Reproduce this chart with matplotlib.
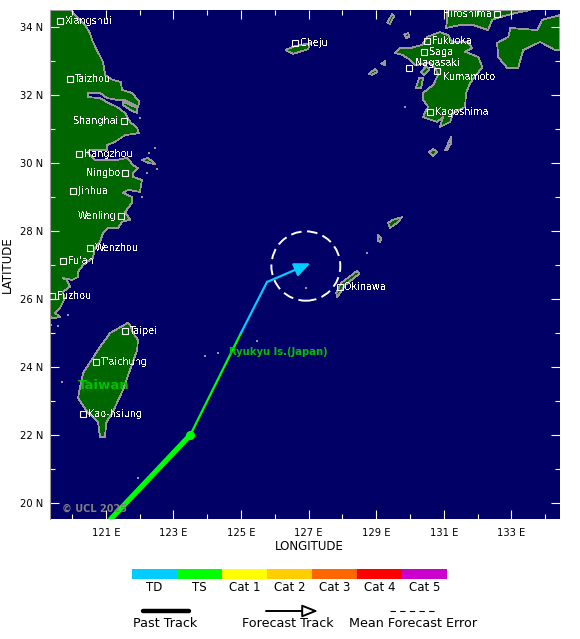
import matplotlib
matplotlib.use('Agg')
import matplotlib.pyplot as plt
from matplotlib.patches import Polygon, Circle

# coast outlines, lon / lat
china_lon = [119.35, 120.00, 120.03, 120.39, 120.53, 120.62, 120.77, 120.92, 120.98, 121.21, 121.45, 121.48, 121.78,
             122.00, 121.95, 121.57, 121.36, 121.04, 120.83, 120.47, 120.47, 120.83, 121.07, 121.33, 121.57, 121.72,
             121.93, 121.98, 121.57, 121.27, 121.04, 121.04, 120.53, 120.47, 120.68, 121.33, 121.63, 121.81, 121.95,
             121.81, 121.81, 122.07, 122.01, 121.66, 121.51, 121.78, 121.78, 121.57, 121.72, 121.48, 121.36, 121.07,
             120.92, 120.83, 120.68, 120.62, 120.33, 120.18, 120.18, 120.00, 119.71, 119.85, 119.94, 119.73, 119.79,
             119.65, 119.50, 119.65, 119.44, 119.35]
china_lat = [34.50, 34.50, 34.41, 34.06, 33.82, 33.56, 33.26, 32.97, 32.59, 32.44, 32.38, 32.15, 32.06,
             31.79, 31.65, 31.85, 31.85, 31.91, 32.06, 32.06, 31.94, 31.91, 31.77, 31.65, 31.47, 31.21,
             31.03, 30.88, 30.82, 30.62, 30.53, 30.38, 30.38, 30.30, 30.09, 30.09, 30.15, 29.94, 29.85,
             29.71, 29.59, 29.50, 29.15, 29.21, 29.12, 29.00, 28.83, 28.56, 28.33, 28.27, 28.09, 28.09,
             27.94, 27.68, 27.50, 27.21, 27.00, 26.80, 26.65, 26.56, 26.62, 26.56, 26.36, 26.21, 26.03,
             25.74, 25.59, 25.47, 25.44, 25.47]

taiwan_lon = [121.66, 121.13, 120.83, 120.62, 120.33, 120.24, 120.18, 120.45, 120.77, 120.83, 120.98, 121.01, 121.21,
              121.51, 121.72, 121.93, 121.95, 121.81, 121.72]
taiwan_lat = [25.30, 25.00, 24.59, 24.27, 23.83, 23.42, 23.09, 22.68, 22.39, 21.95, 21.95, 22.36, 22.68,
              23.33, 23.92, 24.50, 24.80, 25.00, 25.24]

kyushu_lon = [130.89, 131.13, 131.25, 131.72, 131.84, 131.63, 132.02, 132.14, 131.78, 131.66, 131.63, 131.28, 131.19,
              130.89, 130.98, 130.81, 130.39, 130.45, 130.54, 130.39, 130.39, 130.69, 130.83, 130.75, 130.60, 130.15,
              130.01, 129.77, 129.56, 129.71, 130.01, 130.36, 130.51]
kyushu_lat = [33.85, 33.76, 33.56, 33.56, 33.38, 33.27, 33.12, 32.82, 32.35, 32.06, 31.65, 31.47, 31.21,
              31.06, 31.35, 31.21, 31.35, 31.50, 31.65, 31.85, 32.06, 32.30, 32.59, 32.79, 32.94, 32.88,
              33.03, 33.18, 33.24, 33.38, 33.38, 33.47, 33.71]

honshu_lon = [131.10, 131.10, 131.07, 131.49, 131.87, 132.31, 132.43, 132.67, 133.11, 133.56]
honshu_lat = [34.50, 34.21, 33.97, 34.06, 34.06, 33.91, 34.21, 34.29, 34.41, 34.50]

shikoku_lon = [132.58, 132.91, 132.97, 133.77, 133.91, 134.44, 134.44, 134.30, 133.85, 133.35, 133.20, 132.88, 132.61]
shikoku_lat = [33.53, 33.71, 33.97, 33.91, 34.21, 34.35, 33.32, 33.32, 33.56, 33.32, 32.79, 32.79, 33.12]

cheju_lon = [126.31, 126.60, 127.05, 126.99, 126.54]
cheju_lat = [33.32, 33.44, 33.53, 33.35, 33.21]
tsushima_lon = [129.33, 129.47, 129.53, 129.41]
tsushima_lat = [34.12, 34.38, 34.32, 34.09]
iki_lon = [129.83, 129.95, 129.98, 129.89]
iki_lat = [33.79, 33.82, 33.71, 33.68]
goto_lon = [128.79, 128.97, 129.03, 128.88]
goto_lat = [32.62, 32.77, 32.68, 32.59]
hirado_lon = [129.15, 129.27, 129.27]
hirado_lat = [32.91, 33.00, 32.88]
amakusa_lon = [130.18, 130.27, 130.39, 130.33]
amakusa_lat = [32.21, 32.50, 32.50, 32.21]
unzen_lon = [130.33, 130.48, 130.57, 130.42]
unzen_lat = [32.68, 32.85, 32.74, 32.59]
tanega_lon = [131.04, 131.22, 131.22, 131.10]
tanega_lat = [30.38, 30.77, 30.59, 30.38]
yaku_lon = [130.57, 130.69, 130.81, 130.69]
yaku_lat = [30.33, 30.41, 30.33, 30.21]
okinawa_lon = [128.44, 128.50, 128.08, 127.93, 127.85, 127.82, 127.96]
okinawa_lat = [26.83, 26.74, 26.41, 26.18, 26.06, 26.18, 26.47]
amami_lon = [129.35, 129.50, 129.77, 129.62, 129.41]
amami_lat = [28.24, 28.33, 28.41, 28.24, 28.09]
toku_lon = [129.06, 129.15, 129.12, 129.06]
toku_lat = [27.88, 27.80, 27.68, 27.71]
zhoushan_lon = [122.07, 122.25, 122.46, 122.25]
zhoushan_lat = [30.09, 30.15, 29.97, 30.00]
chongming_lon = [121.51, 121.93, 121.93, 121.72, 121.51]
chongming_lat = [31.80, 31.62, 31.47, 31.56, 31.71]

# tiny islets, only the gray outline shows
islet_lon = [122.01, 122.28, 122.46, 122.25, 122.52, 122.22, 122.07, 119.88, 119.59, 119.38, 119.71, 121.95,
             128.73, 126.93, 125.48, 123.94, 124.32, 129.86]
islet_lat = [31.32, 30.30, 30.44, 30.03, 29.83, 29.71, 29.00, 25.53, 25.21, 25.24, 23.56, 20.74,
             27.36, 26.33, 24.77, 24.33, 24.42, 31.65]

# cities
city_names = ['Xiangshui', 'Taizhou', 'Shanghai', 'Hangzhou', 'Ningbo', 'Jinhua', 'Wenling', 'Wenzhou', "Fu'an",
              'Fuzhou', 'Taipei', "T'aichung", 'Kao-hsiung', 'Cheju', 'Hiroshima', 'Fukuoka', 'Saga', 'Nagasaki',
              'Kumamoto', 'Kagoshima', 'Okinawa']
city_lon = [119.65, 119.94, 121.54, 120.21, 121.57, 120.03, 121.45, 120.53, 119.73,
            119.41, 121.57, 120.71, 120.33, 126.60, 132.58, 130.51, 130.42, 129.98,
            130.81, 130.60, 127.93]
city_lat = [34.18, 32.47, 31.24, 30.27, 29.71, 29.18, 28.44, 27.50, 27.12,
            26.09, 25.06, 24.15, 22.62, 33.53, 34.38, 33.59, 33.27, 32.79,
            32.71, 31.50, 26.36]
left_cities = ['Shanghai', 'Ningbo', 'Wenling', 'Hiroshima']

# track
past_lon = [121.12, 123.50]
past_lat = [19.50, 22.00]
ts_lon = [123.50, 125.00]
ts_lat = [22.00, 25.00]
td_lon = [125.00, 125.77]
td_lat = [25.00, 26.50]
arrow_lon = [125.77, 127.05]
arrow_lat = [26.50, 27.05]
error_lon = 126.92
error_lat = 26.97
error_radius = 1.02

# scale
cat_labels = ['TD', 'TS', 'Cat 1', 'Cat 2', 'Cat 3', 'Cat 4', 'Cat 5']
cat_colors = ['#00ccff', '#00ff00', '#ffff00', '#ffcc00', '#ff6600', '#ff0000', '#cc00cc']

W, H = 580, 639
sea = '#000066'
land = '#006600'
coast = '#999999'

fig = plt.figure(figsize=(W / 100, H / 100), dpi=100)
ax = fig.add_axes([50 / W, (H - 519) / H, 510 / W, 509 / H])
ax.set_facecolor(sea)
ax.set_xlim(119.35, 134.44)
ax.set_ylim(19.53, 34.5)

outlines = [(china_lon, china_lat), (taiwan_lon, taiwan_lat), (kyushu_lon, kyushu_lat), (honshu_lon, honshu_lat),
            (shikoku_lon, shikoku_lat), (cheju_lon, cheju_lat), (tsushima_lon, tsushima_lat), (iki_lon, iki_lat),
            (goto_lon, goto_lat), (hirado_lon, hirado_lat), (amakusa_lon, amakusa_lat), (unzen_lon, unzen_lat),
            (tanega_lon, tanega_lat), (yaku_lon, yaku_lat), (okinawa_lon, okinawa_lat), (amami_lon, amami_lat),
            (toku_lon, toku_lat), (zhoushan_lon, zhoushan_lat), (chongming_lon, chongming_lat)]
for lons, lats in outlines:
    ax.add_patch(Polygon(list(zip(lons, lats)), closed=True, facecolor=land, edgecolor=coast, lw=0.55,
                         antialiased=False, zorder=1))
ax.scatter(islet_lon, islet_lat, s=3.5, marker='s', color=coast, linewidths=0, zorder=1)

# dashed error circle
ax.add_patch(Circle((error_lon, error_lat), error_radius, fill=False, edgecolor='white', lw=1.4,
                    linestyle=(0, (5.5, 2.8)), zorder=3))

# track
ax.plot(past_lon, past_lat, color='#00ff00', lw=3.8, solid_capstyle='butt', zorder=4)
ax.plot(ts_lon, ts_lat, color='#00ff00', lw=1.6, zorder=4)
ax.plot(td_lon, td_lat, color='#00ccff', lw=1.6, zorder=4)
ax.plot(past_lon[-1], past_lat[-1], 'o', color='#00ff00', ms=6.5, mew=0, zorder=5)
ax.annotate('', xy=(arrow_lon[1], arrow_lat[1]), xytext=(arrow_lon[0], arrow_lat[0]), zorder=4,
            arrowprops=dict(arrowstyle='-|>,head_length=0.95,head_width=0.42', color='#00ccff', lw=1.6,
                            shrinkA=0, shrinkB=0))

# cities
for name, lon, lat in zip(city_names, city_lon, city_lat):
    ax.plot(lon, lat, 's', ms=5, mfc='none', mec='white', mew=0.8, zorder=6, clip_on=True)
    dx, dy, ha = 5, 0, 'left'
    if name in left_cities:
        dx, ha = -5, 'right'
    if name == 'Nagasaki':
        dx, dy = 6, 5
    if name == 'Kumamoto':
        dx, dy = 6, -6
    ax.annotate(name, (lon, lat), xytext=(dx, dy), textcoords='offset pixels', color='white', fontsize=6.9,
                ha=ha, va='center', zorder=7, antialiased=False, annotation_clip=False)

ax.text(120.95, 23.47, 'Taiwan', color='#00c000', fontsize=9.5, fontweight='bold', ha='center', va='center', zorder=7)
ax.text(126.12, 24.45, 'Ryukyu Is.(Japan)', color='#00c000', fontsize=7.2, fontweight='bold', ha='center',
        va='center', zorder=7)
ax.text(120.67, 19.82, '© UCL 2025', color='#808080', fontsize=7, fontweight='bold', ha='center', va='center', zorder=7)

# ticks
xmajor = list(range(121, 134, 2))
xminor = list(range(120, 135, 2))
ymajor = list(range(20, 35, 2))
yminor = list(range(21, 35, 2))
ax.set_xticks(xmajor)
ax.set_xticks(xminor, minor=True)
ax.set_yticks(ymajor)
ax.set_yticks(yminor, minor=True)
ax.set_xticklabels([f'{v} E' for v in xmajor], fontsize=7.2)
ax.set_yticklabels([f'{v} N' for v in ymajor], fontsize=7.2)
ax.tick_params(which='major', direction='in', length=6.5, width=0.8, color='white', top=True, right=True, pad=5)
ax.tick_params(axis='x', which='major', pad=6.5)
ax.tick_params(which='minor', direction='in', length=3.6, width=0.8, color='white', top=True, right=True)
for side in ['top', 'right', 'bottom']:
    ax.spines[side].set_visible(False)
ax.spines['left'].set_color(coast)
ax.set_xlabel('LONGITUDE', fontsize=8.5)
ax.xaxis.set_label_coords((309 - 50) / 510, -(540 - 519) / 509)
ax.set_ylabel('LATITUDE', fontsize=8.5, labelpad=4.5)

# colour scale
cax = fig.add_axes([132 / W, (H - 579) / H, 315 / W, 10 / H])
cax.bar(range(len(cat_labels)), [1] * len(cat_labels), width=1, color=cat_colors)
cax.set_xlim(-0.5, len(cat_labels) - 0.5)
cax.set_ylim(0, 1)
cax.set_yticks([])
cax.set_xticks(range(len(cat_labels)))
cax.set_xticklabels(cat_labels, fontsize=8.5)
cax.tick_params(length=0, pad=1.5)
for s in cax.spines.values():
    s.set_visible(False)

# key under the scale, in pixels
key = fig.add_axes([0, 0, 1, 1])
key.set_xlim(0, W)
key.set_ylim(H, 0)
key.axis('off')
key.patch.set_alpha(0)
key.plot([143, 189], [611, 611], color='black', lw=3.2, solid_capstyle='round')
key.annotate('', xy=(318, 611), xytext=(266, 611),
             arrowprops=dict(arrowstyle='-|>,head_length=0.95,head_width=0.38', fc='white', ec='black', lw=1.4,
                             shrinkA=0, shrinkB=0))
key.plot([390, 436], [611, 611], color='black', lw=0.8, linestyle=(0, (4.8, 3.9)))
key.text(165, 623.5, 'Past Track', fontsize=9.2, ha='center', va='center')
key.text(288, 623.5, 'Forecast Track', fontsize=9.2, ha='center', va='center')
key.text(413, 623.5, 'Mean Forecast Error', fontsize=9.2, ha='center', va='center')

fig.savefig('out.png', dpi=100)
